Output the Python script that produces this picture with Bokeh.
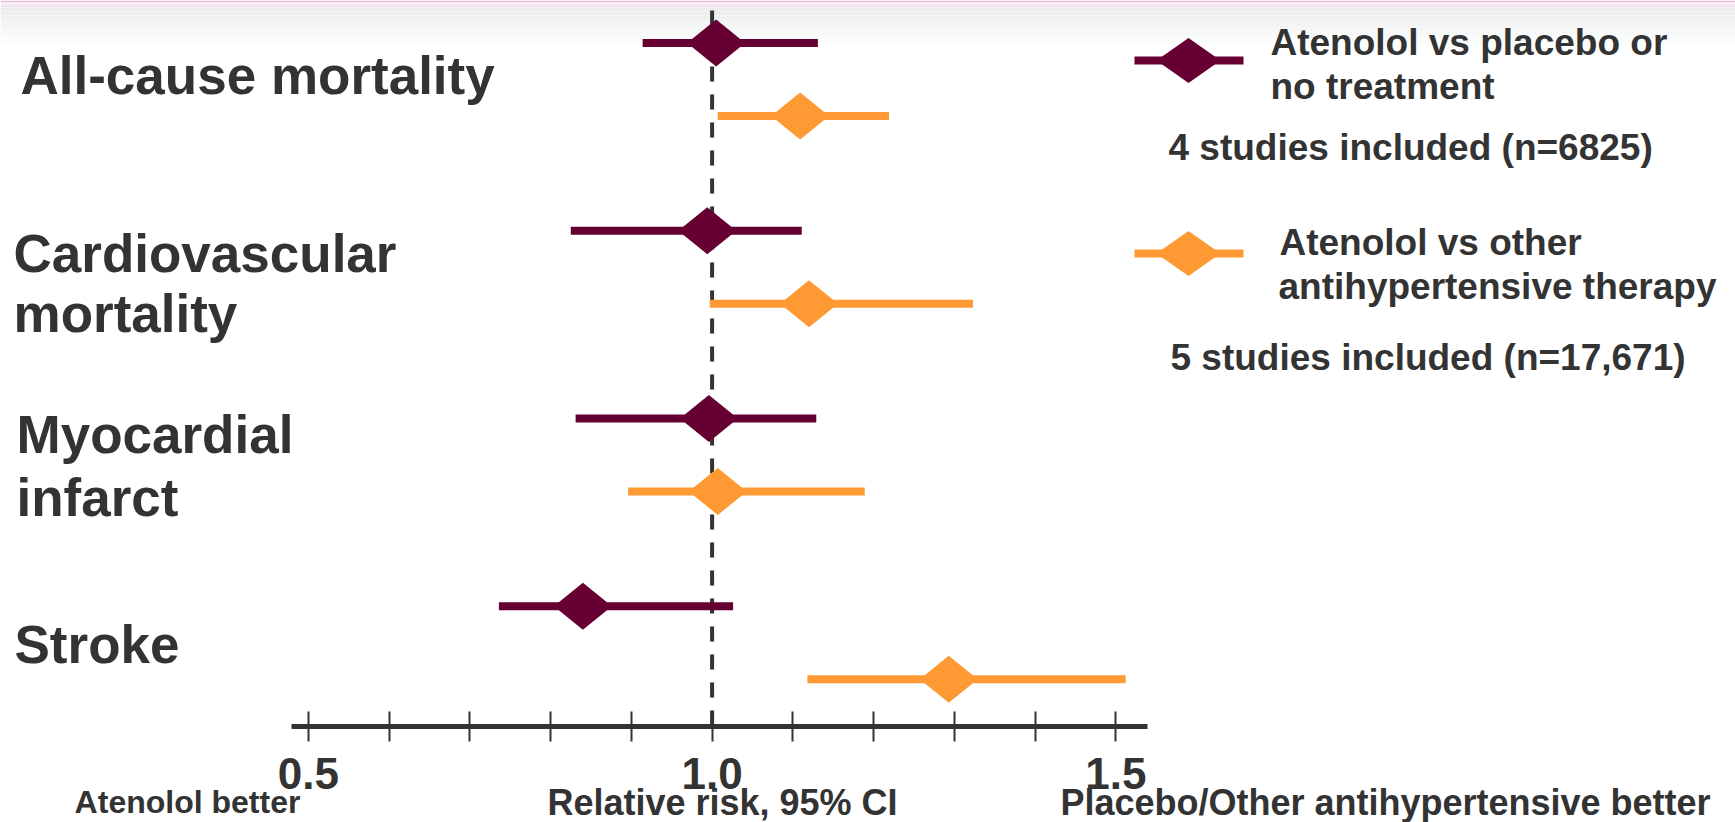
from bokeh.plotting import figure
from bokeh.models import Range1d, LinearAxis, FixedTicker, PrintfTickFormatter
from bokeh.core.properties import value
from bokeh.embed import file_html
from bokeh.resources import INLINE

# ---------------- data ----------------
outcomes = ["All-cause mortality", "Cardiovascular mortality",
            "Myocardial infarct", "Stroke"]
outcome_lines = [["All-cause mortality"], ["Cardiovascular", "mortality"],
                 ["Myocardial", "infarct"], ["Stroke"]]

# Atenolol vs placebo or no treatment
placebo_rr = [1.005, 0.994, 0.996, 0.840]
placebo_low = [0.914, 0.825, 0.831, 0.736]
placebo_high = [1.131, 1.111, 1.129, 1.026]

# Atenolol vs other antihypertensive therapy
other_rr = [1.109, 1.120, 1.007, 1.293]
other_low = [1.007, 0.997, 0.896, 1.118]
other_high = [1.219, 1.323, 1.189, 1.512]

major_ticks = [0.5, 1.0, 1.5]
minor_ticks = [0.6, 0.7, 0.8, 0.9, 1.1, 1.2, 1.3, 1.4]
reference_rr = 1.0

legend_lines = [["Atenolol vs placebo or", "no treatment"],
                ["Atenolol vs other", "antihypertensive therapy"]]
legend_notes = ["4 studies included (n=6825)", "5 studies included (n=17,671)"]

x_title = "Relative risk, 95% CI"
left_note = "Atenolol better"
right_note = "Placebo/Other antihypertensive better"

# ---------------- layout / style ----------------
MAROON = "#660033"
ORANGE = "#FF9933"
TEXT = "#333333"
FONT = value("Liberation Sans")

W, H = 1735, 822
PX_PER_UNIT = 807.6   # horizontal pixels per 1.0 of relative risk
X1_PX = 711.6         # page x of RR = 1.0
ROW0_PX = 79.0        # page y of first outcome row
ROW_PX = 187.75       # page pixels between outcome rows
OFFSET = 36.5 / ROW_PX
AXIS_PX = 726
BASE_FIX = 0.30       # em shift applied to text baselines


def sx(px):
    return 1.0 + (px - X1_PX) / PX_PER_UNIT


def sy(px):
    return (px - ROW0_PX) / ROW_PX


def tb(px, size):
    return sy(px - BASE_FIX * size)


p = figure(width=W, height=H, output_backend="svg", toolbar_location=None,
           x_range=Range1d(sx(0), sx(W)), y_range=Range1d(sy(H), sy(0)),
           x_axis_type=None, y_axis_type=None,
           min_border_left=0, min_border_right=0, min_border_top=0,
           min_border_bottom=0)
p.outline_line_color = None
p.background_fill_color = "white"
p.border_fill_color = "white"

# top decorative band (pink rule + grey fade)
bands = [(0, 2, "#E6BFD6"), (2, 4, "#FAF2F6"), (4, 7, "#F3E5EE")]
for k in range(11):
    t = 7 + 4 * k
    c = int(236 + (255 - 236) * k / 10)
    bands.append((t, t + 4, "#%02X%02X%02X" % (c, min(255, c + 2), min(255, c + 2))))
p.quad(left=[sx(0)] * len(bands), right=[sx(W)] * len(bands),
       top=[sy(b[0]) for b in bands], bottom=[sy(b[1]) for b in bands],
       fill_color=[b[2] for b in bands], line_color=None, level="underlay")

# reference line at RR = 1 (from the top down to the axis)
p.segment(x0=[reference_rr], y0=[sy(10)], x1=[reference_rr], y1=[sy(AXIS_PX)],
          line_color=TEXT, line_width=4, line_dash="15 13", level="underlay")

# confidence intervals and point estimates
n = len(outcomes)
y_pl = [i - OFFSET for i in range(n)]
y_ot = [i + OFFSET for i in range(n)]

HW = 29.0 / PX_PER_UNIT
HH = 23.5 / ROW_PX


def diamond_xy(xc, yc, hw, hh):
    xs = [[x - hw, x, x + hw, x] for x in xc]
    ys = [[y, y - hh, y, y + hh] for y in yc]
    return xs, ys


for lo, hi, rr, ys, col in [(placebo_low, placebo_high, placebo_rr, y_pl, MAROON),
                            (other_low, other_high, other_rr, y_ot, ORANGE)]:
    p.segment(x0=lo, y0=ys, x1=hi, y1=ys, line_width=8, line_color=col,
              line_cap="butt")
    dx, dy = diamond_xy(rr, ys, HW, HH)
    p.patches(dx, dy, fill_color=col, line_color=None)

# outcome labels
LABEL_POS = [(20, 91), (13, 268.5), (13, 328.5), (16, 450), (16, 513), (14, 660)]
flat = [ln for lines in outcome_lines for ln in lines]
p.text(x=[sx(a) for a, _ in LABEL_POS], y=[tb(b, 53) for _, b in LABEL_POS], text=flat,
       text_font=FONT, text_font_style="bold", text_font_size="53px",
       text_color=TEXT, text_align="left", text_baseline="alphabetic")

# legend
LEG_Y = [60, 253]
LEG_LINE = (1134, 1243)
LEG_DIAMOND_X = 1188
LEG_HW = 32 / PX_PER_UNIT
LEG_HH = 22.5 / ROW_PX
for i, col in enumerate([MAROON, ORANGE]):
    yy = sy(LEG_Y[i])
    p.segment(x0=[sx(LEG_LINE[0])], y0=[yy], x1=[sx(LEG_LINE[1])], y1=[yy],
              line_width=8, line_color=col, line_cap="butt")
    dx, dy = diamond_xy([sx(LEG_DIAMOND_X)], [yy], LEG_HW, LEG_HH)
    p.patches(dx, dy, fill_color=col, line_color=None)

LEG_TEXT_POS = [[(1270, 53), (1270, 97)], [(1279, 253), (1278, 297)]]
LEG_NOTE_POS = [(1168, 158), (1170, 368)]
lx, ly, lt = [], [], []
for i in range(2):
    for (a, b), t in zip(LEG_TEXT_POS[i], legend_lines[i]):
        lx.append(sx(a)); ly.append(tb(b, 37)); lt.append(t)
    lx.append(sx(LEG_NOTE_POS[i][0])); ly.append(tb(LEG_NOTE_POS[i][1], 37))
    lt.append(legend_notes[i])
p.text(x=lx, y=ly, text=lt, text_font=FONT, text_font_style="bold",
       text_font_size="37px", text_color=TEXT, text_align="left",
       text_baseline="alphabetic")

# x axis, drawn at the foot of the rows
ax = LinearAxis(ticker=FixedTicker(ticks=major_ticks, minor_ticks=minor_ticks),
                formatter=PrintfTickFormatter(format="%.1f"),
                bounds=(sx(291), sx(1147)), fixed_location=sy(AXIS_PX))
ax.axis_line_width = 5
ax.axis_line_color = TEXT
ax.major_tick_in = 15
ax.major_tick_out = 15
ax.minor_tick_in = 15
ax.minor_tick_out = 15
ax.major_tick_line_width = 2
ax.minor_tick_line_width = 2
ax.major_tick_line_color = TEXT
ax.minor_tick_line_color = TEXT
ax.major_label_standoff = 16
ax.major_label_text_font = "Liberation Sans"
ax.major_label_text_font_style = "bold"
ax.major_label_text_font_size = "44px"
ax.major_label_text_color = TEXT
p.add_layout(ax, "below")

# notes under the axis
for txt, cx, base, size in [(left_note, 187, 811, 32),
                            (x_title, 722, 813, 36),
                            (right_note, 1385, 813, 36)]:
    p.text(x=[sx(cx)], y=[tb(base, size)], text=[txt], text_font=FONT,
           text_font_style="bold", text_font_size="%dpx" % size,
           text_color=TEXT, text_align="center", text_baseline="alphabetic")

open("out.html", "w").write(file_html(p, INLINE))
